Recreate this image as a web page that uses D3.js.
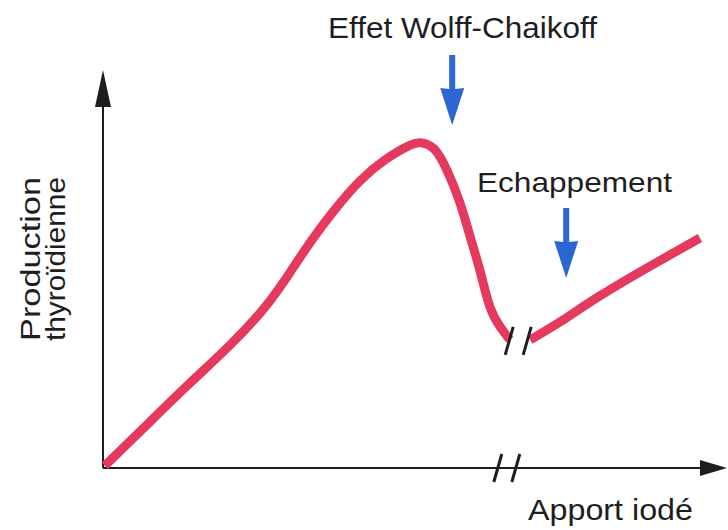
<!DOCTYPE html>
<html>
<head>
<meta charset="utf-8">
<script src="https://cdn.jsdelivr.net/npm/d3@7"></script>
<style>
  body { margin: 0; background: #fff; }
  text { font-family: "Liberation Sans", Arial, sans-serif; fill: #1e1e1e; }
</style>
</head>
<body>
<div id="chart"></div>
<script>
(function () {

  var w = 728;
  var h = 530;

  // curve before the break (apport iodé, production thyroïdienne)
  var xBefore = [0.3, 7.8, 14.5, 21.2, 27, 31.2, 34.8, 38.7, 42.8, 47, 51.2, 53.2, 55.2, 57.3, 59.5, 61.2, 62.8, 64.5, 66.2, 67.8];
  var yBefore = [0.6, 12.8, 23.6, 34.2, 44.7, 54.4, 63.3, 71.9, 79.7, 85.6, 89.7, 90.3, 88.6, 82.8, 73.6, 64.2, 55, 44.7, 39.2, 35.6];

  // curve after the break
  var xAfter = [71.2, 76.2, 82.8, 91.2, 99.5];
  var yAfter = [35.6, 40.6, 47.8, 56.1, 63.9];

  // annotations: label, x of the arrow, y of the arrow tip
  var notes = ["Effet Wolff-Chaikoff", "Echappement"];
  var noteX = [58.2, 77.2];
  var noteY = [95.3, 52.8];

  var axisBreakX = 67.3;
  var curveBreak = [69.2, 35.3];

  var xLabel = "Apport iodé";
  var yLabel = ["Production", "thyroïdienne"];

  var xScale = d3.scaleLinear().domain([0, 100]).range([103, 703]);
  var yScale = d3.scaleLinear().domain([0, 100]).range([468, 108]);

  var svg = d3.select("#chart")
    .append("svg")
    .attr("width", w)
    .attr("height", h);

  var ink = "#1e1e1e";
  var red = "#e53a5e";
  var blue = "#2b66d3";

  // axes
  var x0 = xScale(0), y0 = yScale(0);
  svg.append("line")
    .attr("x1", x0).attr("y1", y0)
    .attr("x2", x0).attr("y2", 100)
    .style("stroke", ink).style("stroke-width", 2);
  svg.append("path")
    .attr("d", "M" + x0 + " 70 L" + (x0 - 8) + " 107 L" + (x0 + 8) + " 107 Z")
    .style("fill", ink);

  svg.append("line")
    .attr("x1", x0).attr("y1", y0)
    .attr("x2", 705).attr("y2", y0)
    .style("stroke", ink).style("stroke-width", 2);
  svg.append("path")
    .attr("d", "M727 " + y0 + " L700 " + (y0 - 8) + " L700 " + (y0 + 8) + " Z")
    .style("fill", ink);

  // curve
  var line = d3.line()
    .x(function (d) { return xScale(d[0]); })
    .y(function (d) { return yScale(d[1]); })
    .curve(d3.curveNatural);

  var parts = [d3.zip(xBefore, yBefore), d3.zip(xAfter, yAfter)];

  svg.selectAll(".curve")
    .data(parts)
    .enter()
    .append("path")
    .attr("class", "curve")
    .attr("d", line)
    .style("fill", "none")
    .style("stroke", red)
    .style("stroke-width", 9)
    .style("stroke-linejoin", "round");

  // break marks "//"
  function slashes(cx, cy) {
    [-9, 9].forEach(function (off) {
      svg.append("line")
        .attr("x1", cx + off + 4).attr("y1", cy - 14)
        .attr("x2", cx + off - 4).attr("y2", cy + 14)
        .style("stroke", ink).style("stroke-width", 3);
    });
  }
  slashes(xScale(axisBreakX), y0);
  slashes(xScale(curveBreak[0]), yScale(curveBreak[1]));

  // blue arrows
  svg.selectAll(".arrow")
    .data(notes)
    .enter()
    .append("path")
    .attr("class", "arrow")
    .attr("d", function (d, i) {
      var x = xScale(noteX[i]), tip = yScale(noteY[i]);
      return "M" + (x - 3) + " " + (tip - 70) + " L" + (x + 3) + " " + (tip - 70) +
        " L" + (x + 3) + " " + (tip - 36) + " L" + (x + 12) + " " + (tip - 37) +
        " L" + x + " " + tip + " L" + (x - 12) + " " + (tip - 37) +
        " L" + (x - 3) + " " + (tip - 36) + " Z";
    })
    .style("fill", blue);

  // labels
  svg.append("text")
    .attr("x", 328).attr("y", 38)
    .attr("textLength", 269).attr("lengthAdjust", "spacingAndGlyphs")
    .style("font-size", "29px")
    .text(notes[0]);

  svg.append("text")
    .attr("x", 477).attr("y", 192)
    .attr("textLength", 195).attr("lengthAdjust", "spacingAndGlyphs")
    .style("font-size", "28px")
    .text(notes[1]);

  svg.append("text")
    .attr("x", 528).attr("y", 520)
    .attr("textLength", 165).attr("lengthAdjust", "spacingAndGlyphs")
    .style("font-size", "30px")
    .text(xLabel);

  svg.selectAll(".ylab")
    .data(yLabel)
    .enter()
    .append("text")
    .attr("class", "ylab")
    .attr("transform", function (d, i) {
      return "translate(" + (40 + i * 25) + ",259) rotate(-90)";
    })
    .attr("text-anchor", "middle")
    .attr("textLength", 164).attr("lengthAdjust", "spacingAndGlyphs")
    .style("font-size", "27px")
    .text(function (d) { return d; });

})();
</script>
</body>
</html>
